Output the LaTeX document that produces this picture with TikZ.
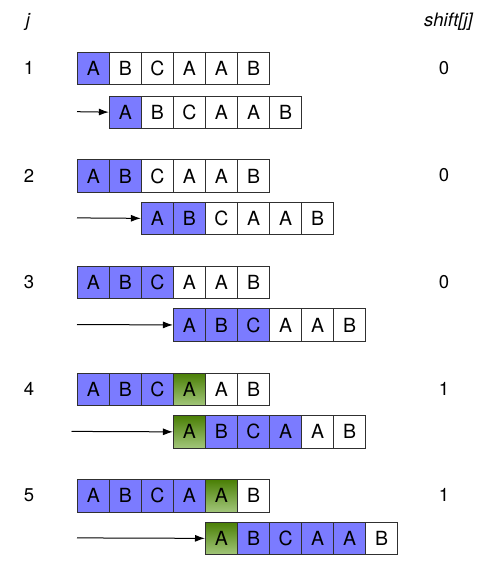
\documentclass[tikz,border=0pt]{standalone}
\usepackage{fontspec}
\setmainfont{TeX Gyre Heros}
\usetikzlibrary{arrows.meta}
\definecolor{cblue}{HTML}{7B7BFF}
\definecolor{G1}{HTML}{4A7F05}
\definecolor{G2}{HTML}{A2C67A}
\definecolor{edge}{HTML}{303030}
\tikzset{
  cell/.style={draw=edge, line width=0.9pt, minimum width=32.05pt, minimum height=32.4pt,
    inner sep=0pt, anchor=north west},
  kind/.is choice,
  kind/B/.style={fill=cblue},
  kind/W/.style={fill=white},
  kind/G/.style={top color=G1, bottom color=G2},
  letter/.style={font=\fontsize{19.5}{20}\selectfont, inner sep=0pt},
  lbl/.style={font=\fontsize{18.5}{19}\selectfont, inner sep=0pt},
  hdr/.style={font=\fontsize{18.5}{19}\selectfont\itshape, inner sep=0pt},
  shiftarrow/.style={-{Latex[length=10pt,width=7pt]}, line width=1pt, black}
}
\begin{document}
\begin{tikzpicture}[x=1pt,y=-1pt]
\useasboundingbox (0,0) rectangle (484,565);
\node[hdr] (hj) at (28,22) {j};
\node[hdr, anchor=east] (hs) at (473,22) {shift[j]};
\foreach \r/\ty/\by/\s/\ax/\tf/\bf/\v in {
  1/51.7/95.5/1/77/{B,W,W,W,W,W}/{B,W,W,W,W,W}/0,
  2/159.3/201.7/2/77/{B,B,W,W,W,W}/{B,B,W,W,W,W}/0,
  3/265.5/308.3/3/77/{B,B,B,W,W,W}/{B,B,B,W,W,W}/0,
  4/372.7/415.2/3/71.5/{B,B,B,G,W,W}/{G,B,B,B,W,W}/1,
  5/479.2/521.7/4/77/{B,B,B,B,G,W}/{G,B,B,B,B,W}/1} {
  \node[lbl] (n\r) at (29,\ty+16.2) {\r};
  \node[lbl] (v\r) at (444,\ty+16.2) {\v};
  \foreach \f [count=\i] in \tf {
    \pgfmathsetmacro{\xx}{76.8+32.05*(\i-1)}
    \node[cell, kind=\f] (t\r c\i) at (\xx,\ty) {};
  }
  \foreach \f [count=\i] in \bf {
    \pgfmathsetmacro{\xx}{76.8+32.05*(\i-1+\s)}
    \node[cell, kind=\f] (b\r c\i) at (\xx,\by) {};
  }
  \foreach \l [count=\i] in {A,B,C,A,A,B} {
    \node[letter] at (t\r c\i.center) {\l};
    \node[letter] at (b\r c\i.center) {\l};
  }
  \coordinate (a\r) at (\ax,\by+16.2);
  \draw[shiftarrow] (a\r) -- (b\r c1.west);
}
\end{tikzpicture}
\end{document}
